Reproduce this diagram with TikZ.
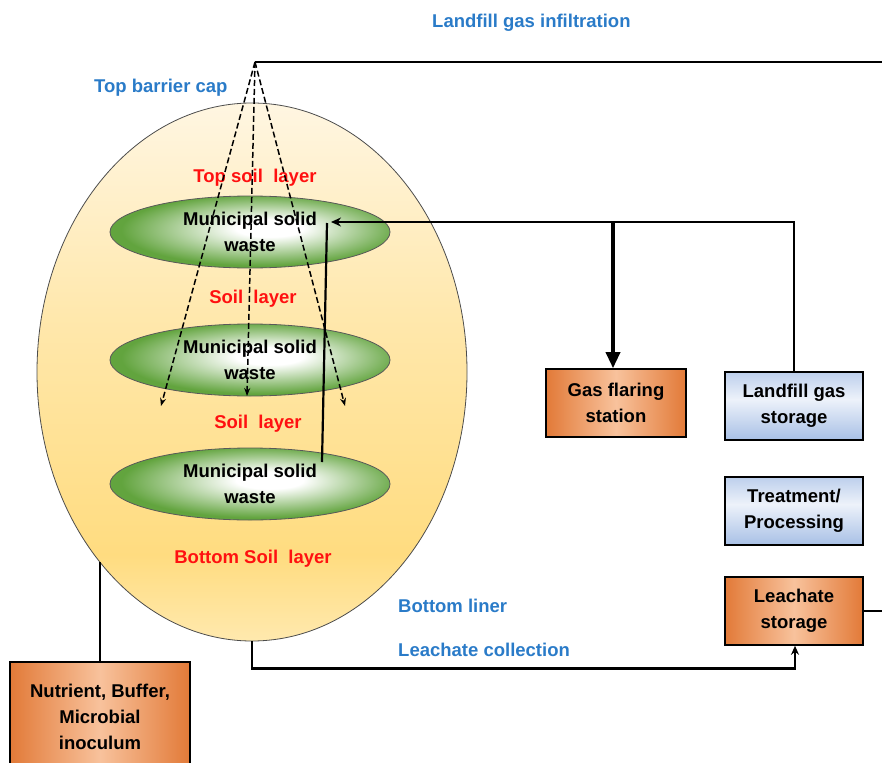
\documentclass[tikz,border=0pt]{standalone}
\usepackage{fontspec}
\setmainfont{Liberation Sans}
\usetikzlibrary{shapes.geometric,arrows.meta}

\definecolor{capA}{HTML}{FFF6E2}
\definecolor{capB}{HTML}{FFDC80}
\definecolor{capC}{HTML}{FFE9AE}
\definecolor{mswG}{HTML}{62A43E}
\definecolor{orD}{HTML}{E27A38}
\definecolor{orL}{HTML}{F8C29C}
\definecolor{bluD}{HTML}{A8C0E6}
\definecolor{bluL}{HTML}{EDF2FA}
\definecolor{txtB}{HTML}{2A7BC8}
\definecolor{txtR}{HTML}{FF1010}

\pgfdeclareverticalshading{capshade}{100bp}{color(0bp)=(capC); color(25bp)=(capC); color(33bp)=(capB); color(55bp)=(capB!55!capA); color(75bp)=(capA); color(100bp)=(capA)}
\pgfdeclareradialshading{mswshade}{\pgfpoint{4bp}{3bp}}{color(0bp)=(white); color(6bp)=(white); color(25bp)=(mswG); color(50bp)=(mswG)}
\pgfdeclarehorizontalshading{orshade}{100bp}{color(0bp)=(orD); color(25bp)=(orD); color(50bp)=(orL); color(75bp)=(orD); color(100bp)=(orD)}
\pgfdeclareverticalshading{blushade}{100bp}{color(0bp)=(bluD); color(25bp)=(bluD); color(55bp)=(bluL); color(75bp)=(bluD!70!bluL); color(100bp)=(bluD!70!bluL)}

\begin{document}
\begin{tikzpicture}[x=1pt,y=-1pt]
      \tikzstyle{every node}+=[inner sep=0pt, font=\fontsize{18.5}{26}\selectfont\bfseries]
      \tikzstyle{layer}=[ellipse, draw=black!65, line width=0.8, shading=mswshade, minimum width=280, minimum height=72, align=center]
      \tikzstyle{orbox}=[rectangle, draw=black, line width=1.6, shading=orshade, minimum width=140, minimum height=68, align=center]
      \tikzstyle{blubox}=[rectangle, draw=black, line width=1.6, shading=blushade, minimum width=138, minimum height=68, align=center]
      \tikzstyle{bluetext}=[text=txtB, anchor=west]
      \tikzstyle{redtext}=[text=txtR]
      \tikzstyle{pipe}=[draw=black, line width=2.2]
      \tikzstyle{gasray}=[draw=black, line width=1.5, dashed, dash pattern=on 6pt off 3pt, -{Stealth[length=8pt,width=6pt]}]
      \useasboundingbox (0,0) rectangle (882,762);
      \clip (0,0) rectangle (882,762);
      \node [ellipse, draw=black!70, line width=0.8, shading=capshade, minimum width=430, minimum height=538] (cap) at (252,372) {};
      \node [layer] (msw1) at (250,232) {Municipal solid\\waste};
      \node [layer] (msw2) at (250,360) {Municipal solid\\waste};
      \node [layer] (msw3) at (250,484) {Municipal solid\\waste};
      \node [redtext] (topsoil) at (255,178) {Top soil\ \ layer};
      \node [redtext] (soil1) at (253,299) {Soil\ \ layer};
      \node [redtext] (soil2) at (258,424) {Soil\ \ layer};
      \node [redtext] (botsoil) at (253,559) {Bottom Soil\ \ layer};
      \node [bluetext] (infil) at (432,23) {Landfill gas infiltration};
      \node [bluetext] (barrier) at (94,88) {Top barrier cap};
      \node [bluetext] (liner) at (398,606) {Bottom liner};
      \node [bluetext] (collect) at (398,650) {Leachate collection};
      \node [orbox] (flare) at (616,403) {Gas flaring\\station};
      \node [blubox] (store) at (794,406) {Landfill gas\\storage};
      \node [blubox] (treat) at (794,511) {Treatment/\\Processing};
      \node [orbox, minimum width=138] (leach) at (794,611) {Leachate\\storage};
      \node [orbox, minimum width=180, minimum height=110, text depth=0pt] (nutri) at (100,717) {Nutrient, Buffer,\\Microbial\\inoculum};
      \coordinate (apex) at (255,62);
      \coordinate (gasout) at (882,62);
      \coordinate (rayL) at (161,406);
      \coordinate (rayM) at (247,396);
      \coordinate (rayR) at (345,406);
      \coordinate (inlet) at (331,222);
      \coordinate (rise) at (322,462);
      \coordinate (risetop) at (327,223);
      \coordinate (tap) at (613,222);
      \coordinate (capedge) at (100,562);
      \coordinate (leachout) at (882,611);
      \draw [pipe] (apex) -- (gasout);
      \draw [gasray] (apex) -- (rayL);
      \draw [gasray] (apex) -- (rayM);
      \draw [gasray] (apex) -- (rayR);
      \draw [pipe, -{Stealth[length=10pt,width=9pt]}] (store.north) |- (inlet);
      \draw [pipe] (rise) -- (risetop);
      \draw [draw=black, line width=3.4, -{Triangle[length=16pt,width=14pt]}] (tap) -- (tap |- flare.north);
      \draw [pipe] (cap.south) -- ++(0,27) -| ([xshift=1pt]leach.south) [-{Stealth[length=9pt,width=8pt]}];
      \draw [pipe] (leach.east) -- (leachout);
      \draw [pipe] (capedge) -- (nutri.north);
\end{tikzpicture}
\end{document}
